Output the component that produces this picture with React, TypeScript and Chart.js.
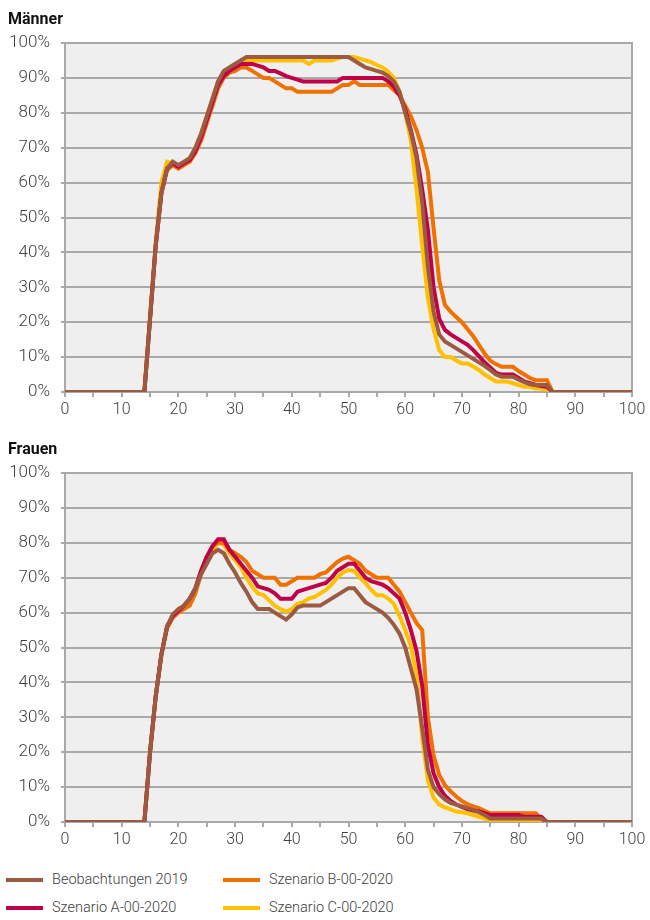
import React, { useEffect, useRef } from "react";
import { Chart, registerables } from "chart.js";

Chart.register(...registerables);

// x categories: age 0..100
const AGES: number[] = Array.from({ length: 101 }, (_, i) => i);
const X_TICK_LABELS = ["0", "10", "20", "30", "40", "50", "60", "70", "80", "90", "100"];

const SERIES_NAMES = ["Beobachtungen 2019", "Szenario A-00-2020", "Szenario B-00-2020", "Szenario C-00-2020"];
const SERIES_COLORS = ["#9b5a41", "#c00048", "#f07000", "#ffc000"];

// Männer (percent, index = age 0..100)
const M_BEOB = [
  0, 0, 0, 0, 0, 0, 0, 0, 0, 0,
  0, 0, 0, 0, 0, 21, 42, 57, 64, 66,
  65, 66, 67, 70, 74, 79, 84, 89, 92, 93,
  94, 95, 96, 96, 96, 96, 96, 96, 96, 96,
  96, 96, 96, 96, 96, 96, 96, 96, 96, 96,
  96, 95, 94, 93, 92.5, 92, 91.5, 90.5, 89, 86,
  80, 74.5, 67, 54, 36, 23, 16.5, 14.5, 13.5, 12.5,
  11.5, 10.5, 9.5, 8.5, 7.5, 6.3, 5, 4.4, 4.4, 4.4,
  3.5, 2.8, 2.2, 2, 2, 2, 0, 0, 0, 0,
  0, 0, 0, 0, 0, 0, 0, 0, 0, 0,
  0,
];
const M_A = [
  0, 0, 0, 0, 0, 0, 0, 0, 0, 0,
  0, 0, 0, 0, 0, 21, 42, 57, 64, 65.5,
  64.5, 65.5, 66.5, 69, 73, 78, 83, 88, 90.5, 92,
  93, 94, 94, 94, 93.5, 93, 92, 92, 91.3, 90.5,
  90, 89.5, 89, 89, 89, 89, 89, 89, 89, 90,
  90, 90, 90, 90, 90, 90, 90, 89, 87.5, 85,
  81, 75, 68, 58, 46.5, 30, 21, 17.8, 16.5, 15.5,
  14.5, 13.5, 12, 10.3, 8.5, 7, 5.5, 5, 5, 5,
  4, 3, 2.5, 2, 1.7, 1.5, 0, 0, 0, 0,
  0, 0, 0, 0, 0, 0, 0, 0, 0, 0,
  0,
];
const M_B = [
  0, 0, 0, 0, 0, 0, 0, 0, 0, 0,
  0, 0, 0, 0, 0, 21, 42, 57, 63.5, 65,
  64, 65, 66, 68.5, 72, 77, 82, 87, 90, 91.5,
  92, 93, 93, 92, 91, 90, 90, 89, 88, 87,
  87, 86, 86, 86, 86, 86, 86, 86, 87, 88,
  88, 89, 88, 88, 88, 88, 88, 88, 86.5, 85,
  82, 79, 75, 70, 63, 47, 32, 25, 23, 21.5,
  20, 18, 16, 13.5, 11, 9, 8, 7.2, 7.2, 7.2,
  6, 5, 4, 3.4, 3.4, 3.4, 0, 0, 0, 0,
  0, 0, 0, 0, 0, 0, 0, 0, 0, 0,
  0,
];
const M_C = [
  0, 0, 0, 0, 0, 0, 0, 0, 0, 0,
  0, 0, 0, 0, 0, 22, 43, 60, 66, 65.5,
  65, 66, 67, 70, 74, 79, 84, 89, 91.5, 93,
  94, 95, 95, 95, 95, 95, 95, 95, 95, 95,
  95, 95, 95, 94, 95, 95, 95, 95, 95.5, 96,
  96, 96, 95.5, 95, 94.5, 93.7, 93, 91.8, 90, 86,
  80, 72, 58, 42, 27, 18, 12, 10, 10, 9,
  8.2, 8.2, 7.3, 6.3, 5, 4, 3, 3, 3, 2.5,
  2, 1.5, 1.5, 1, 1, 0.6, 0, 0, 0, 0,
  0, 0, 0, 0, 0, 0, 0, 0, 0, 0,
  0,
];

// Frauen
const F_BEOB = [
  0, 0, 0, 0, 0, 0, 0, 0, 0, 0,
  0, 0, 0, 0, 0, 20, 36, 48, 56, 59.5,
  61, 62, 64, 67, 71, 74, 77, 78, 77, 74,
  71.5, 68.5, 66, 63, 61, 61, 61, 60, 59, 58,
  59.5, 61.5, 62, 62, 62, 62, 63, 64, 65, 66,
  67, 67, 65, 63, 62, 61, 60, 58.5, 56.5, 54,
  50, 44, 38, 27, 15, 10, 8, 6.5, 5.5, 5,
  4.5, 4, 3.4, 2.8, 2, 1, 1, 1, 1, 1,
  1, 1, 1, 1, 1, 0, 0, 0, 0, 0,
  0, 0, 0, 0, 0, 0, 0, 0, 0, 0,
  0,
];
const F_A = [
  0, 0, 0, 0, 0, 0, 0, 0, 0, 0,
  0, 0, 0, 0, 0, 20, 36, 48, 56, 59,
  60.5, 62, 64, 67, 72, 76, 79, 81, 81, 78,
  76, 74, 72, 70, 67.5, 67, 66.5, 65.5, 64, 64,
  64, 66, 66.5, 67, 67.5, 68, 68.5, 70, 72, 73,
  74, 74, 72, 70, 69, 68.5, 68, 67, 65.5, 64,
  60, 55, 49, 39, 22, 14, 10, 7.5, 6, 5,
  4.3, 3.7, 3.3, 3, 2.5, 2, 2, 2, 2, 2,
  2, 1.5, 1.5, 1.5, 1.5, 0, 0, 0, 0, 0,
  0, 0, 0, 0, 0, 0, 0, 0, 0, 0,
  0,
];
const F_B = [
  0, 0, 0, 0, 0, 0, 0, 0, 0, 0,
  0, 0, 0, 0, 0, 20, 36, 48, 55.5, 58.5,
  60, 61, 62, 65.5, 71, 76, 79, 80, 80, 78,
  77, 76, 74.5, 72, 71, 70, 70, 70, 68, 68,
  69, 70, 70, 70, 70, 71, 71.5, 73, 74.5, 75.5,
  76, 75, 74, 72, 71, 70, 70, 70, 68, 66,
  63, 60, 57, 55, 30, 19, 13.5, 10.6, 8.8, 7.3,
  6, 5.1, 4.5, 4, 3.2, 2.5, 2.5, 2.5, 2.5, 2.5,
  2.5, 2.5, 2.5, 2.5, 1, 0, 0, 0, 0, 0,
  0, 0, 0, 0, 0, 0, 0, 0, 0, 0,
  0,
];
const F_C = [
  0, 0, 0, 0, 0, 0, 0, 0, 0, 0,
  0, 0, 0, 0, 0, 20, 36, 48, 56, 59,
  61, 62, 64, 67, 72, 76, 78, 80, 79.5, 77,
  75, 73, 70, 67.5, 65.5, 65, 63.5, 62, 61, 60.3,
  61, 62.5, 63, 64, 64.5, 65.5, 66.5, 68, 70, 71.5,
  72.2, 72, 70, 68.5, 66.5, 65, 65, 64, 62.5, 59,
  55, 50.5, 42, 24, 12, 7, 5, 4.2, 3.6, 3,
  2.8, 2.5, 2, 1.5, 1, 0.5, 0, 0, 0, 0,
  0, 0, 0, 0, 0, 0, 0, 0, 0, 0,
  0, 0, 0, 0, 0, 0, 0, 0, 0, 0,
  0,
];

const FONT = "Roboto, 'Noto Sans', sans-serif";
const TEXT_COLOR = "#404040";
const GRID_COLOR = "#a9a9a9";

const plotBg = {
  id: "plotBg",
  beforeDraw(chart: any) {
    const { ctx, chartArea: a } = chart;
    ctx.save();
    ctx.fillStyle = "#efefef";
    ctx.fillRect(a.left, a.top, a.right - a.left, a.bottom - a.top);
    ctx.restore();
  },
  beforeDatasetsDraw(chart: any) {
    const { ctx, chartArea: a } = chart;
    ctx.save();
    ctx.strokeStyle = GRID_COLOR;
    ctx.lineWidth = 2;
    ctx.beginPath();
    ctx.moveTo(a.right, a.top - 1);
    ctx.lineTo(a.right, a.bottom);
    ctx.stroke();
    ctx.restore();
  },
};

function PanelChart({ series }: { series: number[][] }) {
  const ref = useRef<HTMLCanvasElement>(null);
  useEffect(() => {
    if (!ref.current) return;
    const datasets = series.map((vals, i) => ({
      label: SERIES_NAMES[i],
      data: AGES.map((a, j) => ({ x: a, y: vals[j] })),
      borderColor: SERIES_COLORS[i],
      backgroundColor: SERIES_COLORS[i],
      borderWidth: 4,
      pointRadius: 0,
      tension: 0,
      fill: false,
      borderJoinStyle: "miter" as const,
    }));
    const chart = new Chart(ref.current, {
      type: "line",
      data: { datasets },
      options: {
        animation: false,
        responsive: false,
        maintainAspectRatio: false,
        layout: { padding: { left: 8, right: 18, top: 43, bottom: 0 } },
        plugins: { legend: { display: false }, tooltip: { enabled: false }, title: { display: false } },
        scales: {
          x: {
            type: "linear",
            min: 0,
            max: 100,
            ticks: {
              stepSize: 5,
              autoSkip: false,
              maxRotation: 0,
              color: TEXT_COLOR,
              font: { family: FONT, size: 16, weight: "300" },
              padding: 3,
              callback: (v: any) => (Number(v) % 10 === 0 ? X_TICK_LABELS[Number(v) / 10] : ""),
            },
            grid: { drawOnChartArea: false, drawTicks: true, tickLength: 5, color: GRID_COLOR, lineWidth: 2 },
            border: { display: true, color: GRID_COLOR, width: 2 },
            afterFit: (s: any) => {
              s.height = 38;
            },
          },
          y: {
            min: 0,
            max: 100,
            ticks: {
              stepSize: 10,
              color: TEXT_COLOR,
              font: { family: FONT, size: 17, weight: "300" },
              padding: 11,
              callback: (v: any) => `${v}%`,
            },
            grid: { color: GRID_COLOR, lineWidth: 2, tickLength: 4 },
            border: { display: true, color: GRID_COLOR, width: 2 },
            afterFit: (s: any) => {
              s.width = 57;
            },
          },
        },
      },
      plugins: [plotBg],
    });
    return () => chart.destroy();
  }, [series]);
  return <canvas ref={ref} width={650} height={430} style={{ display: "block", width: 650, height: 430 }} />;
}

const M_SERIES = [M_BEOB, M_A, M_B, M_C];
const F_SERIES = [F_BEOB, F_A, F_B, F_C];

const titleStyle: React.CSSProperties = {
  position: "absolute",
  left: 8,
  fontFamily: FONT,
  fontWeight: 700,
  fontSize: 16,
  lineHeight: "16px",
  color: "#111",
};

function LegendItem({ x, y, color, label }: { x: number; y: number; color: string; label: string }) {
  return (
    <>
      <div style={{ position: "absolute", left: x, top: y - 2, width: 37, height: 4, background: color }} />
      <div
        style={{
          position: "absolute",
          left: x + 46,
          top: y - 9,
          fontFamily: FONT,
          fontSize: 14.5,
          fontWeight: 300,
          lineHeight: "18px",
          color: TEXT_COLOR,
          whiteSpace: "nowrap",
        }}
      >
        {label}
      </div>
    </>
  );
}

export default function App() {
  return (
    <div style={{ position: "absolute", left: 0, top: 0, width: 650, height: 920, background: "#fff" }}>
      <div style={{ position: "absolute", left: 0, top: 0 }}>
        <PanelChart series={M_SERIES} />
      </div>
      <div style={{ position: "absolute", left: 0, top: 430 }}>
        <PanelChart series={F_SERIES} />
      </div>
      <div style={{ ...titleStyle, top: 10.5 }}>Männer</div>
      <div style={{ ...titleStyle, top: 440.5 }}>Frauen</div>
      <LegendItem x={6} y={880} color={SERIES_COLORS[0]} label={SERIES_NAMES[0]} />
      <LegendItem x={223} y={880} color={SERIES_COLORS[2]} label={SERIES_NAMES[2]} />
      <LegendItem x={6} y={908} color={SERIES_COLORS[1]} label={SERIES_NAMES[1]} />
      <LegendItem x={223} y={908} color={SERIES_COLORS[3]} label={SERIES_NAMES[3]} />
    </div>
  );
}
